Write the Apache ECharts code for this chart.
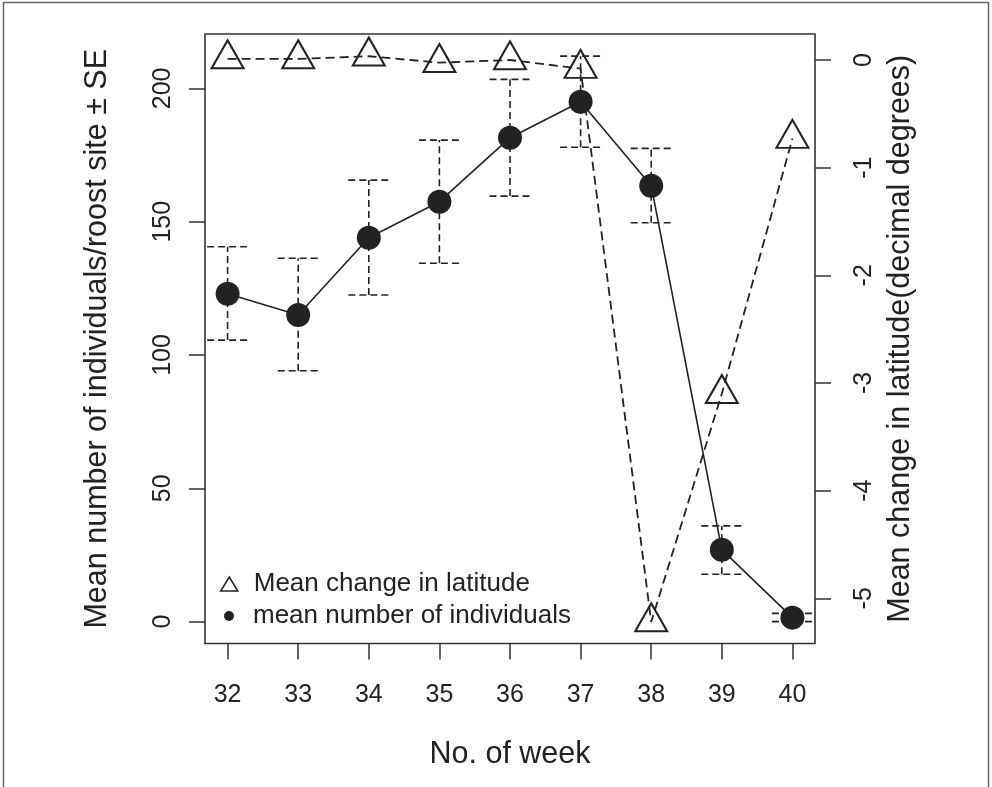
<!DOCTYPE html>
<html>
<head>
<meta charset="utf-8">
<style>
  html, body { margin: 0; padding: 0; background: #fff; }
  #chart { width: 992px; height: 787px; }
</style>
<script src="https://cdn.jsdelivr.net/npm/echarts@6/dist/echarts.min.js"></script>
</head>
<body>
<div id="chart"></div>
<script>
  // week numbers (x axis)
  const weeks = [32, 33, 34, 35, 36, 37, 38, 39, 40]
  // mean number of individuals per roost site, with the SE bar ends
  const meanIndividuals = [123, 115, 144, 157.5, 181.5, 195, 163.5, 27, 1.5]
  const seLower = [105.6, 94.1, 122.5, 134.4, 159.6, 177.9, 149.6, 17.8, 0]
  const seUpper = [140.6, 136.3, 165.6, 180.6, 203.4, 212.1, 177.5, 35.9, 3.1]
  // mean change in latitude (decimal degrees), right axis
  const latChange = [0.01, 0.01, 0.035, -0.025, 0.0, -0.08, -5.22, -3.1, -0.73]
  // tick labels
  const leftTicks = [0, 50, 100, 150, 200]
  const rightTicks = [0, -1, -2, -3, -4, -5]

  const FONT = '"Liberation Sans", Arial, Helvetica, sans-serif'
  const INK = '#222'

  const chart = echarts.init(document.getElementById('chart'))

  // error bars: dashed whisker with dashed caps
  function renderErrorBar (params, api) {
    const x = api.value(0)
    const lo = api.coord([x, api.value(1)])
    const hi = api.coord([x, api.value(2)])
    const half = 20.5
    const style = { stroke: INK, lineWidth: 1.6, lineDash: [7, 4], fill: null }
    return {
      type: 'group',
      children: [
        { type: 'line', shape: { x1: lo[0], y1: lo[1], x2: hi[0], y2: hi[1] }, style: style },
        { type: 'line', shape: { x1: hi[0] - half, y1: hi[1], x2: hi[0] + half, y2: hi[1] }, style: style },
        { type: 'line', shape: { x1: lo[0] - half, y1: lo[1], x2: lo[0] + half, y2: lo[1] }, style: style }
      ]
    }
  }

  chart.setOption({
    animation: false,
    backgroundColor: '#fff',
    textStyle: { fontFamily: FONT, color: INK },
    graphic: [
      { // thin frame round the figure
        type: 'rect',
        shape: { x: 3.5, y: 2.5, width: 985, height: 800 },
        style: { fill: null, stroke: '#666', lineWidth: 1.5 },
        silent: true
      }
    ],
    grid: {
      left: 205,
      top: 34,
      right: 177,
      bottom: 143.5,
      show: true,
      borderColor: '#333',
      borderWidth: 1.6,
      backgroundColor: 'transparent'
    },
    legend: [
      {
        data: [{ name: 'Mean change in latitude', icon: 'triangle' }],
        left: 215,
        top: 566,
        itemWidth: 17,
        itemHeight: 14,
        symbolKeepAspect: false,
        itemStyle: { color: 'rgba(0,0,0,0)', borderColor: INK, borderWidth: 1.5 },
        lineStyle: { width: 0, opacity: 0 },
        textStyle: { fontSize: 26, color: INK, fontFamily: FONT, padding: [0, 0, 0, 11] },
        selectedMode: false
      },
      {
        data: [{ name: 'mean number of individuals', icon: 'circle' }],
        left: 219,
        top: 598,
        itemWidth: 10,
        itemHeight: 10,
        itemStyle: { color: INK, borderWidth: 0 },
        lineStyle: { width: 0, opacity: 0 },
        textStyle: { fontSize: 26, color: INK, fontFamily: FONT, padding: [0, 0, 0, 14] },
        selectedMode: false
      }
    ],
    xAxis: {
      type: 'value',
      min: 31.68,
      max: 40.32,
      name: 'No. of week',
      nameLocation: 'middle',
      nameGap: 96,
      nameTextStyle: { fontSize: 30.5, color: INK, fontFamily: FONT },
      axisLine: { show: false, onZero: false },
      axisTick: { show: true, inside: false, length: 16, customValues: weeks, lineStyle: { color: '#333', width: 1.5 } },
      axisLabel: { customValues: weeks, fontSize: 25, color: INK, margin: 39, fontFamily: FONT },
      splitLine: { show: false }
    },
    yAxis: [
      {
        type: 'value',
        position: 'left',
        min: -8.2,
        max: 220.4,
        name: 'Mean number of individuals/roost site ± SE',
        nameLocation: 'middle',
        nameGap: 92,
        nameTextStyle: { fontSize: 30.5, color: INK, fontFamily: FONT },
        axisLine: { show: false, onZero: false },
        axisTick: { show: true, inside: false, length: 16, customValues: leftTicks, lineStyle: { color: '#333', width: 1.5 } },
        axisLabel: { customValues: leftTicks, rotate: 90, fontSize: 25, color: INK, margin: 29, fontFamily: FONT },
        splitLine: { show: false }
      },
      {
        type: 'value',
        position: 'right',
        min: -5.42,
        max: 0.2415,
        name: 'Mean change in latitude(decimal degrees)',
        nameLocation: 'middle',
        nameGap: 67,
        nameTextStyle: { fontSize: 30.5, color: INK, fontFamily: FONT },
        axisLine: { show: false, onZero: false },
        axisTick: { show: true, inside: false, length: 16, customValues: rightTicks, lineStyle: { color: '#333', width: 1.5 } },
        axisLabel: { customValues: rightTicks, rotate: 90, fontSize: 25, color: INK, margin: 37, fontFamily: FONT },
        splitLine: { show: false }
      }
    ],
    series: [
      { // SE bars
        type: 'custom',
        name: 'SE',
        xAxisIndex: 0,
        yAxisIndex: 0,
        renderItem: renderErrorBar,
        data: weeks.map((w, i) => [w, seLower[i], seUpper[i]]),
        z: 1,
        silent: true
      },
      { // individuals, filled circles with solid line
        type: 'line',
        name: 'mean number of individuals',
        yAxisIndex: 0,
        data: weeks.map((w, i) => [w, meanIndividuals[i]]),
        symbol: 'circle',
        symbolSize: 24,
        itemStyle: { color: INK },
        lineStyle: { color: INK, width: 1.6, type: 'solid' },
        z: 3
      },
      { // latitude change, open triangles with dashed line
        type: 'line',
        name: 'Mean change in latitude',
        yAxisIndex: 1,
        data: weeks.map((w, i) => [w, latChange[i]]),
        symbol: 'triangle',
        symbolSize: [32, 28],
        symbolOffset: [0, -4.7],
        itemStyle: { color: 'rgba(0,0,0,0)', borderColor: INK, borderWidth: 2 },
        lineStyle: { color: INK, width: 1.8, type: [9, 5] },
        z: 4
      }
    ]
  })
</script>
</body>
</html>
